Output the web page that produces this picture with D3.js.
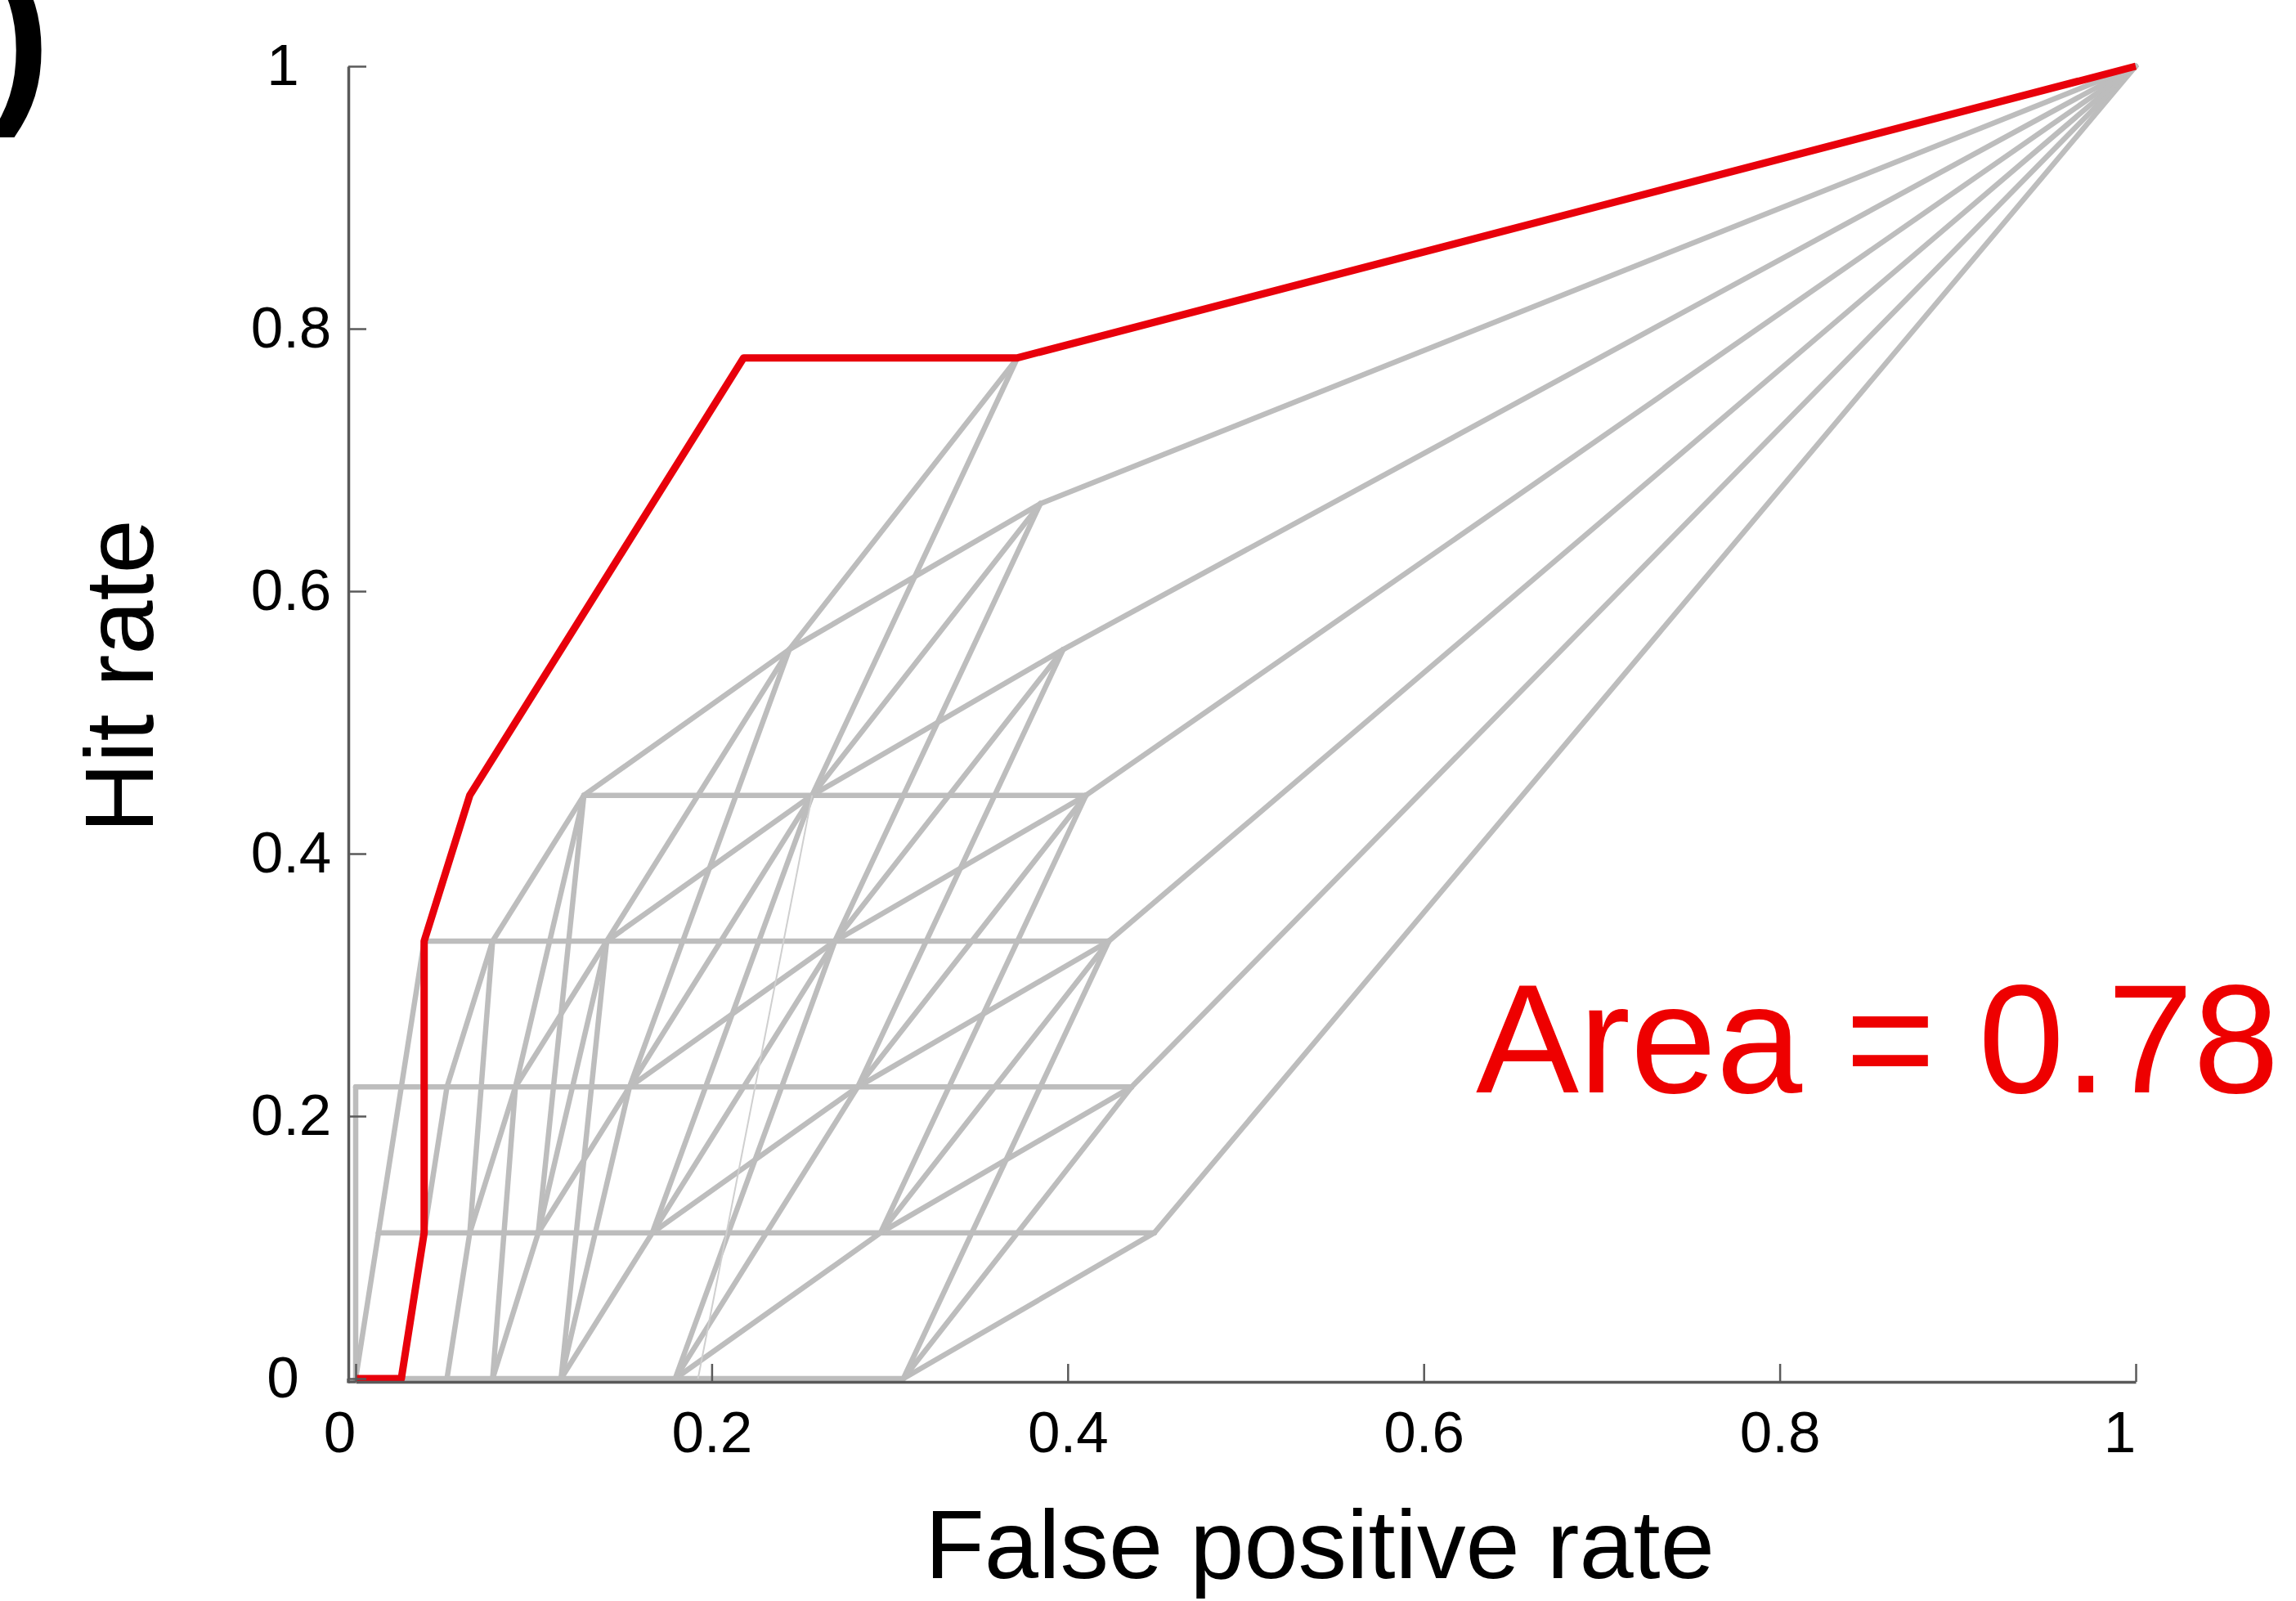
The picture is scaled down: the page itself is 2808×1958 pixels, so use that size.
<!DOCTYPE html>
<html>
<head>
<meta charset="utf-8">
<script src="https://cdn.jsdelivr.net/npm/d3@7"></script>
<style>
  html, body { margin: 0; padding: 0; background: #ffffff; }
  svg { display: block; }
  text { font-family: "Liberation Sans", Arial, Helvetica, sans-serif; }
</style>
</head>
<body>
<svg id="chart" width="2808" height="1958"></svg>
<script>
// ---------------- data ----------------
// Totals of negatives / positives behind the rates (grid of the curves)
const nNegatives = 78;
const nPositives = 9;

// Red ROC curve: false-positive counts and hit counts at each threshold
const redFP = [0, 2, 3, 3, 5, 17, 29, 78];
const redTP = [0, 0, 1, 3, 4, 7, 7, 9];

// Grey ROC curves, drawn as segments [fp1, tp1, fp2, tp2] (counts)
const greySegments = [
  [0,0,2,0],[0,0,1,1],[0,0,0,2],
  [2,0,4,0],[2,0,3,1],[1,1,3,1],[1,1,2,2],[0,2,2,2],
  [4,0,6,0],[4,0,5,1],[3,1,5,1],[3,1,4,2],[2,2,4,2],[2,2,3,3],
  [6,0,9,0],[6,0,8,1],[6,0,7,2],[5,1,8,1],[5,1,7,2],[5,1,6,3],[4,2,7,2],[4,2,6,3],[3,3,6,3],
  [9,0,14,0],[9,0,13,1],[9,0,12,2],[9,0,11,3],[8,1,13,1],[8,1,12,2],[8,1,11,3],[8,1,10,4],
  [7,2,12,2],[7,2,11,3],[7,2,10,4],[6,3,11,3],[6,3,10,4],
  [14,0,24,0],[14,0,23,1],[14,0,22,2],[14,0,21,3],[13,1,23,1],[13,1,22,2],[13,1,21,3],[13,1,20,4],
  [12,2,22,2],[12,2,21,3],[12,2,20,4],[12,2,19,5],[11,3,21,3],[11,3,20,4],[11,3,19,5],[10,4,20,4],[10,4,19,5],
  [24,0,35,1],[24,0,34,2],[24,0,33,3],[23,1,35,1],[23,1,34,2],[23,1,33,3],[23,1,32,4],
  [22,2,34,2],[22,2,33,3],[22,2,32,4],[22,2,31,5],[21,3,33,3],[21,3,32,4],[21,3,31,5],[21,3,30,6],
  [20,4,32,4],[20,4,31,5],[20,4,30,6],[20,4,29,7],[19,5,30,6],[19,5,29,7],
  [35,1,78,9],[34,2,78,9],[33,3,78,9],[32,4,78,9],[31,5,78,9],[30,6,78,9],[29,7,78,9]
];

// A faint thin grey segment visible in the middle of the mesh
const thinSegments = [
  [15,0,20,4]
];

// Axis ticks and labels
const xTicks = [0, 0.2, 0.4, 0.6, 0.8, 1];
const xTickLabels = ["0", "0.2", "0.4", "0.6", "0.8", "1"];
const yTicks = [0, 0.2, 0.4, 0.6, 0.8, 1];
const yTickLabels = ["0", "0.2", "0.4", "0.6", "0.8", "1"];

const xTitle = "False positive rate";
const yTitle = "Hit rate";
const areaLabel = "Area = 0.78";
const panelMark = ")";

// ---------------- drawing ----------------
const svg = d3.select("#chart");

const x = d3.scaleLinear().domain([0, 1]).range([435, 2612]);
const y = d3.scaleLinear().domain([0, 1]).range([1686, 81]);

const fpRate = c => c / nNegatives;
const tpRate = c => c / nPositives;

const axisColor = "#5a5a5a";

// grey curves
svg.append("g")
  .selectAll("line")
  .data(greySegments)
  .join("line")
  .attr("x1", d => x(fpRate(d[0])))
  .attr("y1", d => y(tpRate(d[1])))
  .attr("x2", d => x(fpRate(d[2])))
  .attr("y2", d => y(tpRate(d[3])))
  .attr("stroke", "#bdbdbd")
  .attr("stroke-width", 6.5)
  .attr("stroke-linecap", "round");

svg.append("g")
  .selectAll("line")
  .data(thinSegments)
  .join("line")
  .attr("x1", d => x(fpRate(d[0])))
  .attr("y1", d => y(tpRate(d[1])))
  .attr("x2", d => x(fpRate(d[2])))
  .attr("y2", d => y(tpRate(d[3])))
  .attr("stroke", "#cfcfcf")
  .attr("stroke-width", 2);

// red curve
const redPoints = redFP.map((f, i) => [fpRate(f), tpRate(redTP[i])]);
svg.append("path")
  .datum(redPoints)
  .attr("fill", "none")
  .attr("stroke", "#e8000b")
  .attr("stroke-width", 9)
  .attr("stroke-linejoin", "round")
  .attr("d", d3.line().x(d => x(d[0])).y(d => y(d[1])));

// x axis
const xAxisY = 1690;
const gx = svg.append("g")
  .attr("transform", `translate(0,${xAxisY})`)
  .call(d3.axisBottom(x)
    .tickValues(xTicks)
    .tickFormat((d, i) => xTickLabels[i])
    .tickSizeInner(-22)
    .tickSizeOuter(0)
    .tickPadding(36));
gx.select(".domain").attr("stroke", axisColor).attr("stroke-width", 3.5);
gx.selectAll(".tick line").attr("stroke", axisColor).attr("stroke-width", 2.5);
gx.selectAll(".tick text")
  .attr("font-size", 71)
  .attr("fill", "#000")
  .attr("dx", function () { return this.textContent.length === 1 ? -20 : 0; });

// y axis
const yAxisX = 426;
const gy = svg.append("g")
  .attr("transform", `translate(${yAxisX},0)`)
  .call(d3.axisLeft(y)
    .tickValues(yTicks)
    .tickFormat((d, i) => yTickLabels[i])
    .tickSizeInner(-22)
    .tickSizeOuter(0)
    .tickPadding(10));
gy.select(".domain").attr("stroke", axisColor).attr("stroke-width", 3.5);
gy.selectAll(".tick line").attr("stroke", axisColor).attr("stroke-width", 2.5);
gy.selectAll(".tick text")
  .attr("font-size", 71)
  .attr("fill", "#000")
  .attr("text-anchor", "middle")
  .attr("x", function () { return this.textContent.length === 1 ? -80 : -70; });

// join the two axis lines at the corner
svg.append("line")
  .attr("x1", yAxisX).attr("x2", x(0))
  .attr("y1", xAxisY).attr("y2", xAxisY)
  .attr("stroke", axisColor).attr("stroke-width", 3.5);
svg.append("line")
  .attr("x1", yAxisX).attr("x2", yAxisX)
  .attr("y1", y(0)).attr("y2", xAxisY + 1.5)
  .attr("stroke", axisColor).attr("stroke-width", 3.5);

// axis titles
svg.append("text")
  .attr("x", 1614).attr("y", 1930)
  .attr("text-anchor", "middle")
  .attr("font-size", 119)
  .attr("fill", "#000")
  .text(xTitle);

svg.append("text")
  .attr("transform", "translate(187,827) rotate(-90)")
  .attr("text-anchor", "middle")
  .attr("font-size", 119)
  .attr("fill", "#000")
  .text(yTitle);

// area annotation
svg.append("text")
  .attr("x", 1805).attr("y", 1336)
  .attr("font-size", 189)
  .attr("fill", "#ee0000")
  .text(areaLabel);

// clipped panel mark from the original figure
svg.append("text")
  .attr("x", -14).attr("y", 121)
  .attr("font-size", 228)
  .attr("font-weight", "bold")
  .attr("fill", "#000")
  .text(panelMark);
</script>
</body>
</html>
